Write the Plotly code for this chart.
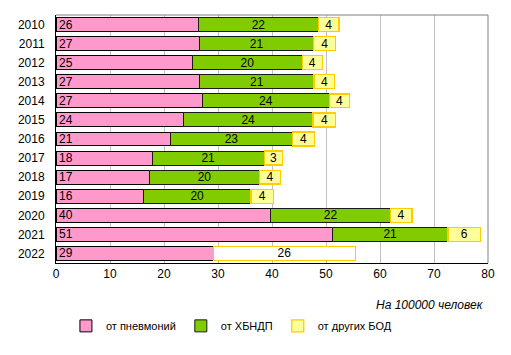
import plotly.graph_objects as go

years = ["2010", "2011", "2012", "2013", "2014", "2015", "2016",
         "2017", "2018", "2019", "2020", "2021", "2022"]
pneumonia = [26.4, 26.6, 25.3, 26.6, 27.1, 23.6, 21.2, 17.8, 17.3, 16.2, 39.8, 51.2, 29.2]
chronic = [22.2, 21.1, 20.3, 21.2, 23.5, 24.0, 22.6, 20.8, 20.4, 19.9, 22.1, 21.4, None]
other = [3.8, 4.1, 3.7, 3.8, 3.8, 4.2, 4.1, 3.4, 3.9, 4.2, 4.0, 6.0, 26.2]
names = ["от пневмоний", "от ХБНДП", "от других БОД"]
x_ticks = [0, 10, 20, 30, 40, 50, 60, 70, 80]

FONT = "Arial, Liberation Sans, sans-serif"

def lbl(vals):
    return ["" if v is None else str(int(round(v))) for v in vals]

other_fill = ["#FFFF99"] * (len(years) - 1) + ["#FFFFFF"]

common = dict(orientation="h", textposition="inside", textangle=0,
              constraintext="none", hoverinfo="skip", cliponaxis=False)

fig = go.Figure()
fig.add_trace(go.Bar(
    y=years, x=pneumonia, name=names[0],
    marker=dict(color="#FF99CC", line=dict(color="#000000", width=1)),
    text=lbl(pneumonia), insidetextanchor="start",
    textfont=dict(color="#000000", size=12, family=FONT), **common,
))
fig.add_trace(go.Bar(
    y=years, x=chronic, name=names[1],
    marker=dict(color="#80CC00", line=dict(color="#1a1a1a", width=1)),
    text=lbl(chronic), insidetextanchor="middle",
    textfont=dict(color="#000000", size=12, family=FONT), **common,
))
fig.add_trace(go.Bar(
    y=years, x=other, name=names[2],
    marker=dict(color=other_fill, line=dict(color="#FFCC00", width=1.3)),
    text=lbl(other), insidetextanchor="middle",
    textfont=dict(color="#000000", size=12, family=FONT), **common,
))

fig.update_layout(
    width=511, height=355,
    barmode="stack", bargap=0.27,
    paper_bgcolor="white", plot_bgcolor="white",
    margin=dict(l=48, r=31, t=7, b=100),
    font=dict(family=FONT, size=12, color="#000000"),
    xaxis=dict(
        range=[0, 80], tickvals=x_ticks, showgrid=True, gridcolor="#C0C0C0",
        gridwidth=1, zeroline=False, showline=True, linecolor="#000000",
        linewidth=1, ticks="", tickfont=dict(size=12), fixedrange=True,
        automargin=False,
    ),
    yaxis=dict(
        autorange="reversed", showline=True, linecolor="#000000", linewidth=1,
        ticks="", tickfont=dict(size=12), showgrid=False, ticklabelstandoff=8,
        automargin=False,
    ),
    legend=dict(
        orientation="h", x=0.023, xanchor="left", y=-0.195, yanchor="top",
        font=dict(size=11), itemwidth=30, traceorder="normal",
    ),
    showlegend=True,
    annotations=[dict(
        text="На 100000 человек", xref="paper", yref="paper",
        x=0.995, y=-0.133, xanchor="right", yanchor="top", showarrow=False,
        font=dict(size=12, style="italic"),
    )],
    shapes=[dict(
        type="line", xref="paper", yref="paper", x0=0, x1=1, y0=1, y1=1,
        line=dict(color="#808080", width=1),
    ), dict(
        type="line", xref="paper", yref="paper", x0=1, x1=1, y0=0, y1=1,
        line=dict(color="#808080", width=1),
    )],
)

fig.write_html("out.html")
